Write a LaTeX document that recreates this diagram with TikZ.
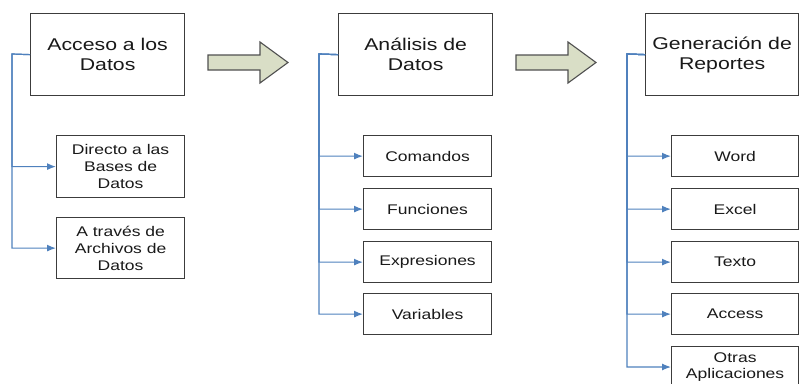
\documentclass[tikz,border=0pt]{standalone}
\usepackage{fontspec}
\setmainfont[FakeStretch=1.25]{Liberation Sans}
\usetikzlibrary{arrows.meta}
\definecolor{linkblue}{RGB}{79,129,189}
\definecolor{boxline}{RGB}{60,60,60}
\definecolor{arrowfill}{RGB}{217,222,198}
\definecolor{arrowline}{RGB}{80,80,80}
\definecolor{txt}{RGB}{25,25,25}
\tikzset{
  mainbox/.style={draw=boxline, line width=1.3pt, fill=white, anchor=north west,
    minimum width=154pt, minimum height=82pt, inner sep=0pt, align=center,
    text=txt, font=\fontsize{17pt}{20pt}\selectfont},
  subbox/.style={draw=boxline, line width=1.2pt, fill=white, anchor=north west,
    minimum width=128pt, minimum height=41pt, inner sep=0pt, align=center,
    text=txt, font=\fontsize{14pt}{17pt}\selectfont},
  link/.style={draw=linkblue, line width=1.2pt,
    -{Latex[length=9pt,width=7pt]}},
  blockarrow/.style={draw=arrowline, fill=arrowfill, line width=1.1pt, line join=miter}
}
\begin{document}
\begin{tikzpicture}[x=1pt,y=-1pt]
\useasboundingbox (0,0) rectangle (799,383);
\begin{scope}
\clip (0,0) rectangle (799,383);

% ---- Acceso a los Datos ----
\node[mainbox] (acc) at (30,13) {Acceso a los\\Datos};
\node[subbox, minimum height=62pt] (acc1) at (56,135) {Directo a las\\Bases de\\Datos};
\node[subbox, minimum height=61pt] (acc2) at (56,217) {A través de\\Archivos de\\Datos};
\coordinate (accx) at (12,54);
\foreach \c in {acc1,acc2}
  \draw[link] (acc.west) -- (accx) |- (\c.west);

% ---- Análisis de Datos ----
\node[mainbox] (ana) at (338,13) {Análisis de\\Datos};
\node[subbox] (ana1) at (363,135) {Comandos};
\node[subbox] (ana2) at (363,188) {Funciones};
\node[subbox] (ana3) at (363,241) {Expresiones};
\node[subbox] (ana4) at (363,293) {Variables};
\coordinate (anax) at (319,54);
\foreach \c in {ana1,ana2,ana3,ana4}
  \draw[link] (ana.west) -- (anax) |- (\c.west);

% ---- Generación de Reportes ----
\node[mainbox, minimum width=153pt] (gen) at (645,13) {Generación de\\Reportes};
\node[subbox, minimum width=127pt] (gen1) at (671,135) {Word};
\node[subbox, minimum width=127pt] (gen2) at (671,188) {Excel};
\node[subbox, minimum width=127pt] (gen3) at (671,241) {Texto};
\node[subbox, minimum width=127pt] (gen4) at (671,293) {Access};
\node[subbox, minimum width=127pt, font=\fontsize{14pt}{15.5pt}\selectfont] (gen5) at (671,346) {Otras\\Aplicaciones};
\coordinate (genx) at (627,54);
\foreach \c in {gen1,gen2,gen3,gen4}
  \draw[link] (gen.west) -- (genx) |- (\c.west);
\draw[link] (gen.west) -- (genx) |- ([yshift=-21pt]gen5.north west);

% ---- block arrows between the stages ----
\draw[blockarrow] (208,55) -- (260,55) -- (260,42) -- (288,62.5) -- (260,83)
  -- (260,70) -- (208,70) -- cycle;
\draw[blockarrow] (516,55) -- (568,55) -- (568,42) -- (596,62.5) -- (568,83)
  -- (568,70) -- (516,70) -- cycle;
\end{scope}
\end{tikzpicture}
\end{document}
